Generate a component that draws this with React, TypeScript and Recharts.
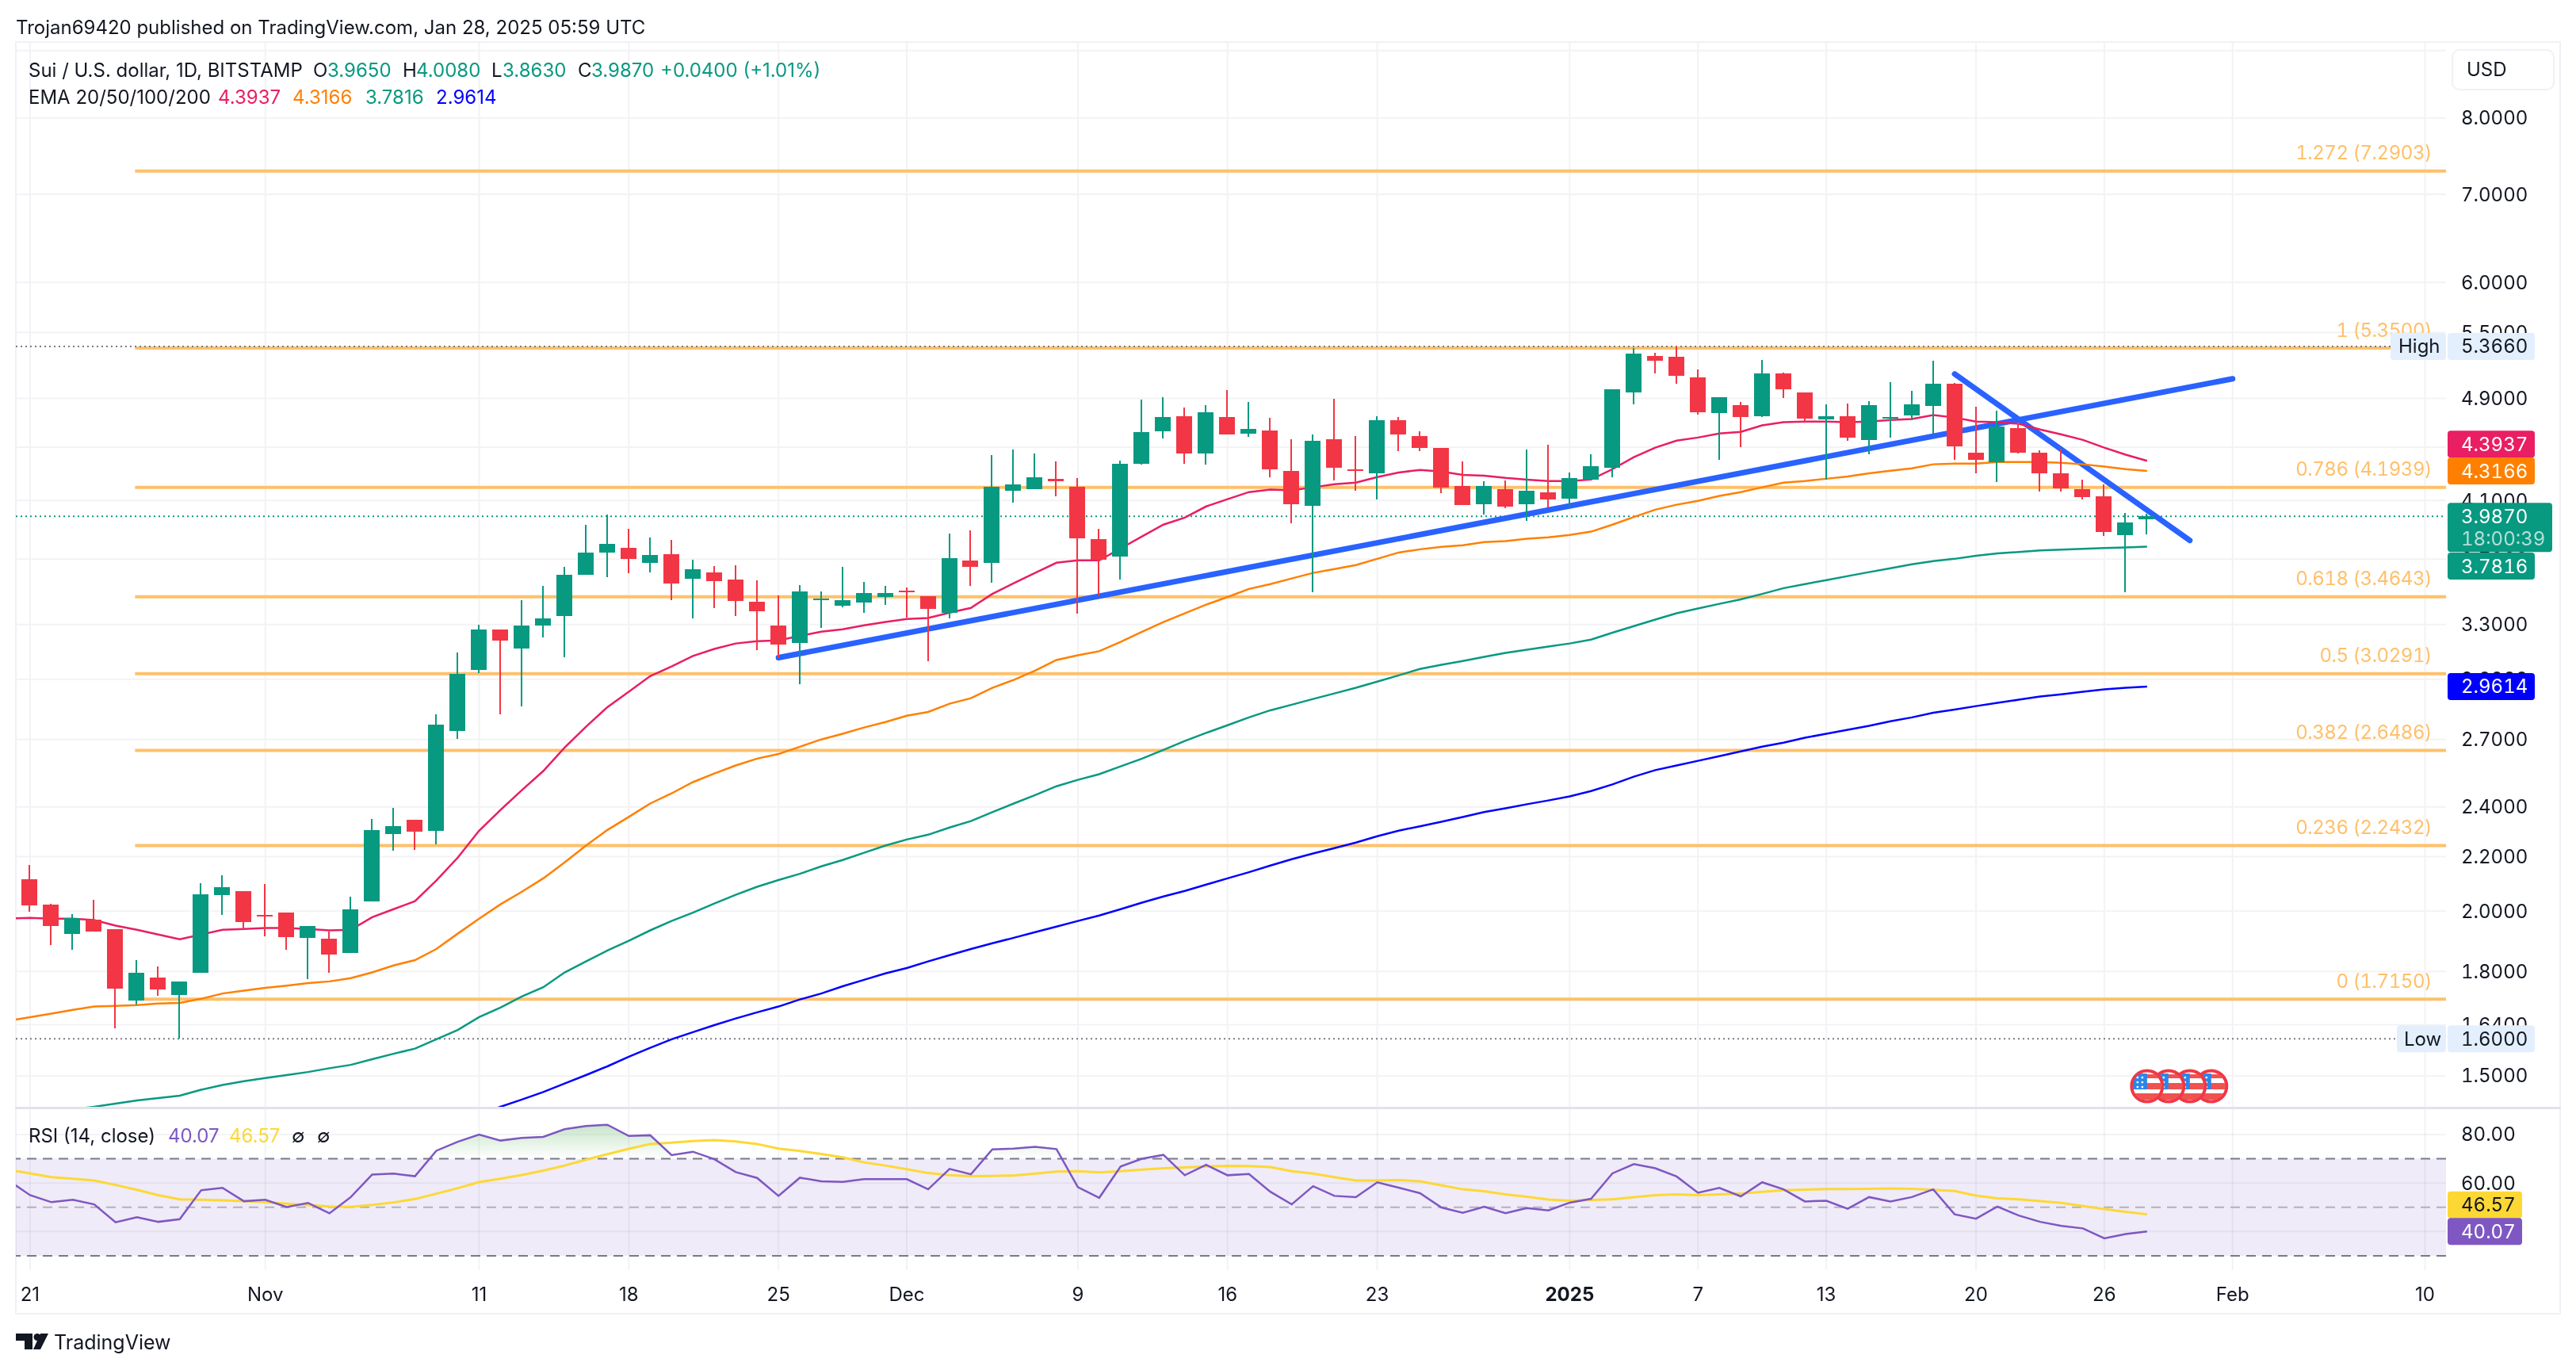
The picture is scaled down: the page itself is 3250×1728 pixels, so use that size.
import React from 'react';
import { ComposedChart, Bar, Line, Area, XAxis, YAxis, CartesianGrid, ReferenceLine, ReferenceArea, ReferenceDot } from 'recharts';

const opens = [2.115,2.024,1.923,1.971,1.939,1.711,1.782,1.727,1.797,2.058,2.072,1.987,1.995,1.909,1.907,1.859,2.035,2.289,2.348,2.302,2.741,3.050,3.273,3.163,3.296,3.352,3.602,3.743,3.775,3.677,3.732,3.577,3.617,3.572,3.435,3.296,3.197,3.445,3.412,3.431,3.463,3.502,3.468,3.370,3.692,3.677,4.172,4.183,4.258,4.201,3.834,3.717,4.373,4.628,4.752,4.453,4.746,4.608,4.634,4.318,4.063,4.563,4.330,4.299,4.719,4.588,4.496,4.206,4.074,4.183,4.074,4.160,4.115,4.252,4.342,4.952,5.277,5.270,5.086,4.779,4.845,4.752,5.122,4.952,4.726,4.752,4.557,4.733,4.759,4.838,5.030,4.459,4.385,4.654,4.459,4.299,4.183,4.132,3.860,3.965];
const highs = [2.169,2.027,1.990,2.041,1.939,1.836,1.816,1.769,2.101,2.130,2.072,2.098,1.995,1.950,1.931,2.052,2.351,2.394,2.348,2.821,3.145,3.301,3.273,3.445,3.532,3.652,3.930,3.999,3.903,3.844,3.828,3.697,3.657,3.662,3.567,3.472,3.537,3.497,3.652,3.557,3.532,3.522,3.468,3.871,3.892,4.435,4.484,4.453,4.392,4.264,3.903,4.398,4.891,4.910,4.825,4.845,4.973,4.871,4.739,4.563,4.601,4.897,4.588,4.752,4.745,4.627,4.496,4.392,4.241,4.247,4.484,4.520,4.305,4.447,4.980,5.348,5.305,5.366,5.157,4.910,4.871,5.242,5.129,4.952,4.851,4.858,4.878,5.044,4.966,5.235,5.037,4.831,4.798,4.693,4.478,4.490,4.252,4.218,4.010,4.008];
const lows = [1.998,1.885,1.869,1.931,1.630,1.700,1.725,1.600,1.797,1.987,1.939,1.915,1.869,1.776,1.797,1.859,2.035,2.224,2.227,2.249,2.704,3.032,2.821,2.862,3.228,3.115,3.602,3.587,3.612,3.617,3.445,3.338,3.398,3.352,3.154,3.115,2.975,3.282,3.403,3.370,3.417,3.342,3.097,3.338,3.532,3.552,4.086,4.183,4.132,3.366,3.472,3.572,4.367,4.570,4.373,4.367,4.601,4.582,4.270,3.941,3.492,4.247,4.172,4.109,4.471,4.471,4.155,4.069,3.999,4.046,3.957,4.052,4.052,4.252,4.270,4.851,5.122,5.030,4.765,4.404,4.502,4.745,4.904,4.706,4.252,4.551,4.447,4.576,4.719,4.608,4.404,4.299,4.235,4.453,4.166,4.166,4.109,3.855,3.492,3.863];
const closes = [2.021,1.950,1.977,1.931,1.747,1.797,1.744,1.769,2.061,2.087,1.963,1.982,1.912,1.950,1.854,2.007,2.305,2.321,2.298,2.772,3.028,3.273,3.210,3.296,3.338,3.602,3.743,3.802,3.702,3.727,3.547,3.637,3.562,3.440,3.380,3.189,3.497,3.454,3.445,3.487,3.487,3.492,3.394,3.707,3.652,4.201,4.218,4.270,4.241,3.839,3.697,4.373,4.621,4.746,4.453,4.785,4.601,4.647,4.330,4.074,4.551,4.342,4.318,4.719,4.601,4.496,4.195,4.069,4.206,4.057,4.172,4.109,4.264,4.355,4.980,5.298,5.235,5.094,4.785,4.910,4.745,5.122,4.980,4.733,4.752,4.576,4.845,4.746,4.851,5.030,4.508,4.404,4.667,4.459,4.299,4.189,4.126,3.879,3.946,3.987];

// index -1 (left of the first candle) comes first in every indicator list
const ema20 = [1.974,1.977,1.974,1.974,1.969,1.950,1.936,1.920,1.904,1.920,1.936,1.939,1.942,1.942,1.939,1.934,1.936,1.979,2.007,2.035,2.110,2.196,2.302,2.387,2.471,2.555,2.662,2.761,2.857,2.935,3.016,3.067,3.124,3.163,3.193,3.206,3.210,3.236,3.259,3.273,3.296,3.315,3.333,3.338,3.370,3.398,3.482,3.547,3.612,3.677,3.692,3.692,3.770,3.850,3.930,3.978,4.057,4.109,4.160,4.178,4.172,4.195,4.218,4.229,4.270,4.305,4.324,4.312,4.287,4.281,4.264,4.252,4.241,4.241,4.252,4.330,4.422,4.496,4.551,4.576,4.608,4.621,4.674,4.700,4.706,4.706,4.700,4.706,4.719,4.726,4.759,4.739,4.706,4.700,4.687,4.641,4.601,4.557,4.496,4.441,4.3937];
const ema50 = [1.651,1.662,1.672,1.683,1.693,1.695,1.697,1.702,1.704,1.716,1.732,1.741,1.749,1.756,1.764,1.769,1.779,1.797,1.819,1.836,1.872,1.923,1.974,2.024,2.069,2.118,2.178,2.243,2.305,2.358,2.414,2.457,2.506,2.544,2.580,2.611,2.632,2.666,2.700,2.727,2.757,2.783,2.814,2.833,2.874,2.902,2.955,2.996,3.045,3.102,3.128,3.150,3.202,3.259,3.315,3.366,3.417,3.463,3.512,3.542,3.577,3.612,3.637,3.662,3.702,3.743,3.764,3.780,3.791,3.812,3.818,3.834,3.844,3.860,3.882,3.930,3.983,4.034,4.069,4.097,4.132,4.160,4.195,4.229,4.241,4.258,4.275,4.299,4.318,4.336,4.367,4.373,4.373,4.385,4.385,4.385,4.379,4.367,4.349,4.330,4.3166];
const ema100 = [1.392,1.399,1.407,1.415,1.421,1.429,1.437,1.443,1.449,1.464,1.476,1.486,1.494,1.502,1.510,1.520,1.529,1.544,1.559,1.573,1.599,1.625,1.662,1.690,1.723,1.751,1.797,1.832,1.867,1.899,1.934,1.966,1.995,2.027,2.058,2.087,2.112,2.135,2.163,2.187,2.215,2.243,2.267,2.286,2.315,2.341,2.378,2.414,2.450,2.488,2.516,2.541,2.576,2.611,2.651,2.693,2.731,2.768,2.806,2.841,2.869,2.898,2.926,2.955,2.987,3.020,3.054,3.076,3.097,3.119,3.141,3.158,3.176,3.193,3.215,3.254,3.291,3.329,3.366,3.394,3.422,3.449,3.482,3.517,3.542,3.567,3.592,3.617,3.642,3.667,3.687,3.702,3.722,3.737,3.747,3.757,3.762,3.767,3.772,3.777,3.7816];
const ema200 = [null,null,null,null,null,null,null,null,null,null,null,null,null,null,null,null,null,null,null,null,null,null,1.403,1.421,1.439,1.458,1.480,1.502,1.525,1.551,1.575,1.599,1.619,1.639,1.658,1.676,1.693,1.714,1.732,1.754,1.774,1.794,1.811,1.832,1.852,1.872,1.891,1.909,1.928,1.947,1.966,1.985,2.007,2.030,2.052,2.072,2.095,2.118,2.141,2.166,2.190,2.212,2.233,2.255,2.280,2.302,2.320,2.338,2.358,2.378,2.394,2.411,2.427,2.444,2.467,2.496,2.530,2.559,2.580,2.601,2.622,2.644,2.666,2.685,2.708,2.727,2.746,2.765,2.787,2.806,2.829,2.845,2.862,2.878,2.894,2.910,2.922,2.935,2.947,2.955,2.9614];
const rsi = [61.0,55.0,52.1,53.1,51.2,43.8,45.9,44.0,45.1,57.0,58.0,52.5,53.1,50.1,51.8,47.5,54.2,63.5,63.9,62.8,73.3,77.0,80.0,77.5,78.6,79.0,82.2,83.5,84.0,79.4,79.7,71.5,72.9,69.8,64.5,62.1,54.7,62.2,60.7,60.5,61.6,61.6,61.6,57.4,65.8,63.6,73.9,74.2,74.9,74.0,58.3,53.9,66.8,70.0,71.6,63.2,67.5,63.2,63.7,56.4,51.2,58.7,54.7,54.2,60.3,58.1,55.8,49.9,47.7,50.2,47.6,49.7,48.7,51.9,53.5,64.0,67.8,66.1,62.7,56.0,58.0,54.5,60.3,57.4,52.4,52.7,49.4,54.2,52.4,54.2,57.4,47.1,45.3,50.3,46.6,44.0,42.3,41.3,37.2,39.0,40.07];
const rsiMa = [65.4,64.0,62.4,61.8,61.0,59.2,57.2,55.0,53.3,53.1,52.9,52.5,52.1,51.5,50.9,50.3,50.2,51.0,52.0,53.4,55.6,57.9,60.4,61.8,63.3,65.1,67.2,69.6,71.9,74.1,76.1,76.6,77.3,77.7,77.1,76.1,74.2,73.2,72.0,70.6,68.5,67.2,65.7,64.1,63.2,62.8,62.9,63.1,63.9,64.7,64.9,64.4,64.9,65.5,66.1,66.4,66.8,67.1,67.0,66.6,64.9,63.9,62.4,61.0,61.0,61.2,60.7,59.1,57.4,56.6,55.3,54.3,53.2,52.7,53.0,53.3,54.2,55.0,55.3,55.0,55.3,55.6,56.4,57.0,57.3,57.5,57.5,57.6,57.8,57.6,57.2,56.7,54.8,53.7,53.3,52.5,51.8,50.5,49.3,48.1,47.1,46.57];

const priceTicks = [8,7,6,5.5,4.9,4.5,4.1,3.7,3.3,3,2.7,2.4,2.2,2,1.8,1.64,1.5];
const priceGrid = [9, ...priceTicks];
const rsiTicks = [80,60,40];
const timeTicks = [0,11,21,28,35,41,49,56,63,72,78,84,91,97,103,112];
const timeLabels = ['21','Nov','11','18','25','Dec','9','16','23','2025','7','13','20','26','Feb','10'];
const fibLevels = [7.2903,5.35,4.1939,3.4643,3.0291,2.6486,2.2432,1.715];
const fibNames = ['1.272 (7.2903)','1 (5.3500)','0.786 (4.1939)','0.618 (3.4643)','0.5 (3.0291)','0.382 (2.6486)','0.236 (2.2432)','0 (1.7150)'];
const trendUp = [{ x: 35, y: 3.115 }, { x: 103, y: 5.071 }];
const trendDown = [{ x: 90, y: 5.114 }, { x: 101, y: 3.823 }];
const eventDays = [102,101,100,99];

const rows = [-1, ...opens.map((_, i) => i)].map((i) => {
  const k = i + 1;
  const r = rsi[k];
  return {
    i,
    open: i >= 0 ? opens[i] : undefined,
    high: i >= 0 ? highs[i] : undefined,
    low: i >= 0 ? lows[i] : undefined,
    close: i >= 0 ? closes[i] : undefined,
    range: i >= 0 ? [lows[i], highs[i]] : undefined,
    ema20: ema20[k], ema50: ema50[k], ema100: ema100[k], ema200: ema200[k],
    rsi: r, rsiMa: rsiMa[k], rsiFill: [70, Math.max(70, r)],
  };
});

const W = 3250, H = 1728;
const LEFT = 20, AXIS_W = 164;
const MAIN_TOP = 53, MAIN_BOTTOM = 1397, RSI_BOTTOM = 1602;
const X_DOMAIN: [number, number] = [-0.6635, 112.98];
const PRICE_DOMAIN: [number, number] = [1.419, 9.134];
const RSI_DOMAIN: [number, number] = [24.1, 91.1];
const FONT = 'Inter, "Liberation Sans", sans-serif';
const INK = '#131722', UP = '#089981', DOWN = '#f23645', FIB = '#ffc06a', GRID = '#f3f3f5';
const BADGE_X = 3088, BADGE_W = 110;
const TAB: React.CSSProperties = { fontVariantNumeric: 'tabular-nums', fontFeatureSettings: '"tnum"' };

function Candle(p: any) {
  const d = p.payload;
  if (!d || d.high == null) return null;
  const top = Math.min(p.y, p.y + p.height);
  const h = Math.abs(p.height);
  const at = (v: number) => top + h * (Math.log(d.high) - Math.log(v)) / (Math.log(d.high) - Math.log(d.low));
  const cx = p.x + p.width / 2;
  const color = d.close >= d.open ? UP : DOWN;
  const y1 = at(Math.max(d.open, d.close)), y2 = at(Math.min(d.open, d.close));
  return (
    <g shapeRendering="crispEdges">
      <rect x={cx - 1} y={top} width={2} height={h} fill={color} />
      <rect x={cx - 10} y={y1} width={20} height={Math.max(2, y2 - y1)} fill={color} />
    </g>
  );
}

function FibLabel(p: any) {
  return <text x={3068} y={p.viewBox.y - 23} textAnchor="end" dominantBaseline="central" fontFamily={FONT} fontSize={24} letterSpacing={-0.45} style={TAB} fill={FIB}>{p.text}</text>;
}

function Badge(p: any) {
  const cy = p.viewBox.y + (p.shift || 0);
  const x = p.bx ?? BADGE_X, w = p.bw ?? BADGE_W, h = p.bh ?? 34;
  const y0 = cy - 17;
  const tx = p.tx ?? x + 17;
  return (
    <g>
      <rect x={x} y={y0} width={w} height={h} rx={4} fill={p.bg} />
      <text x={tx} y={cy} dominantBaseline="central" fontFamily={FONT} fontSize={24} style={TAB} fill={p.fg}>{p.text}</text>
      {p.sub ? <text x={tx} y={cy + 28} dominantBaseline="central" fontFamily={FONT} fontSize={24} style={TAB} fill="#b7dfd6">{p.sub}</text> : null}
    </g>
  );
}

function Flag(p: any) {
  const id = 'flag' + p.day;
  const cx = p.cx, cy = p.cy;
  return (
    <g transform={`translate(${cx},${cy})`}>
      <clipPath id={id}><circle r={18} /></clipPath>
      <circle r={19.5} fill="#fff" stroke="#f23645" strokeWidth={4} />
      <g clipPath={`url(#${id})`}>
        <rect x={-19} y={-15} width={38} height={5} fill="#f0524f" />
        <rect x={-19} y={-4} width={38} height={8} fill="#f0524f" />
        <rect x={-19} y={9} width={38} height={8} fill="#f0524f" />
        <rect x={-19} y={-16} width={19} height={20} fill="#2a87e8" />
        {[-12, -6].map((a) => [-11, -5, 1].map((b) => <circle key={a + '_' + b} cx={a} cy={b} r={1.4} fill="#fff" />))}
      </g>
    </g>
  );
}

function TimeTick(p: any) {
  const idx = timeTicks.indexOf(p.payload.value);
  const label = timeLabels[idx];
  return <text x={p.x} y={1632} textAnchor="middle" dominantBaseline="central" fontFamily={FONT} fontSize={24} fontWeight={label === '2025' ? 700 : 400} fill={INK}>{label}</text>;
}

const layer: React.CSSProperties = { position: 'absolute', left: 0, top: 0 };

function T(p: { x: number; y: number; c?: string; s?: number; w?: number; children: React.ReactNode }) {
  return <div style={{ position: 'absolute', left: p.x, top: p.y - 18, height: 36, lineHeight: '36px', fontFamily: FONT, fontSize: p.s ?? 24, fontWeight: p.w ?? 400, color: p.c ?? INK, whiteSpace: 'nowrap' }}>{p.children}</div>;
}

const mainMargin = { top: MAIN_TOP, left: LEFT, right: AXIS_W, bottom: H - MAIN_BOTTOM };
const rsiMargin = { top: MAIN_BOTTOM, left: LEFT, right: AXIS_W, bottom: H - RSI_BOTTOM };

const hiddenX = <XAxis type="number" dataKey="i" domain={X_DOMAIN} allowDataOverflow hide ticks={timeTicks} interval={0} />;
const hiddenPriceY = <YAxis type="number" scale="log" domain={PRICE_DOMAIN} allowDataOverflow hide ticks={priceGrid} interval={0} />;
const hiddenRsiY = <YAxis type="number" domain={RSI_DOMAIN} allowDataOverflow hide ticks={rsiTicks} interval={0} />;

export default function App() {
  return (
    <div style={{ position: 'absolute', left: 0, top: 0, width: W, height: H, background: '#fff', overflow: 'hidden' }}>
      <div style={{ position: 'absolute', left: LEFT - 1, top: MAIN_TOP - 1, width: 3212, height: 1606, border: '2px solid #f0f0f6', boxSizing: 'border-box' }} />

      {/* price pane: grid, drawings, moving averages */}
      <div style={layer}>
        <ComposedChart width={W} height={H} data={rows} margin={mainMargin}>
          <CartesianGrid stroke={GRID} strokeWidth={2} horizontalValues={priceGrid} verticalValues={timeTicks} />
          {hiddenX}
          {hiddenPriceY}
          {fibLevels.map((v, k) => (
            <ReferenceLine key={v} ifOverflow="visible" segment={[{ x: 4.91, y: v }, { x: X_DOMAIN[1], y: v }]} stroke={FIB} strokeWidth={4} label={<FibLabel text={fibNames[k]} />} />
          ))}
          <ReferenceLine ifOverflow="visible" y={5.366} stroke="#787b86" strokeWidth={2} strokeDasharray="2 4" />
          <ReferenceLine ifOverflow="visible" y={1.6} stroke="#787b86" strokeWidth={2} strokeDasharray="2 4" />
          <ReferenceLine ifOverflow="visible" y={3.987} stroke={UP} strokeWidth={2} strokeDasharray="2 4" />
          <ReferenceLine ifOverflow="visible" segment={trendUp} stroke="#2962ff" strokeWidth={7} strokeLinecap="round" />
          <ReferenceLine ifOverflow="visible" segment={trendDown} stroke="#2962ff" strokeWidth={7} strokeLinecap="round" />
          <Line dataKey="ema20" stroke="#e91e63" strokeWidth={2.5} dot={false} activeDot={false} isAnimationActive={false} />
          <Line dataKey="ema50" stroke="#ff8000" strokeWidth={2.5} dot={false} activeDot={false} isAnimationActive={false} />
          <Line dataKey="ema100" stroke={UP} strokeWidth={2.5} dot={false} activeDot={false} isAnimationActive={false} />
          <Line dataKey="ema200" stroke="#0000ff" strokeWidth={2.5} dot={false} activeDot={false} isAnimationActive={false} />
        </ComposedChart>
      </div>

      {/* candles */}
      <div style={layer}>
        <ComposedChart width={W} height={H} data={rows} margin={mainMargin}>
          {hiddenX}
          {hiddenPriceY}
          <Bar dataKey="range" barSize={20} shape={<Candle />} isAnimationActive={false} />
        </ComposedChart>
      </div>

      {/* price scale labels */}
      <div style={layer}>
        <ComposedChart width={W} height={H} data={rows} margin={{ ...mainMargin, right: 0 }}>
          {hiddenX}
          <YAxis orientation="right" width={AXIS_W} type="number" scale="log" domain={PRICE_DOMAIN} allowDataOverflow ticks={priceTicks} interval={0} axisLine={false} tickLine={false} tickMargin={13} tickFormatter={(v: number) => v.toFixed(4)} tick={{ fontFamily: FONT, fontSize: 24, fill: INK, style: TAB }} />
        </ComposedChart>
      </div>

      {/* RSI pane */}
      <div style={layer}>
        <ComposedChart width={W} height={H} data={rows} margin={{ top: MAIN_BOTTOM, left: LEFT, right: 0, bottom: H - RSI_BOTTOM - 30 }}>
          <defs>
            <linearGradient id="rsiGlow" x1="0" y1="0" x2="0" y2="1">
              <stop offset="0%" stopColor="#8cc98f" stopOpacity={0.8} />
              <stop offset="100%" stopColor="#8cc98f" stopOpacity={0} />
            </linearGradient>
          </defs>
          <ReferenceArea ifOverflow="visible" x1={X_DOMAIN[0]} x2={X_DOMAIN[1]} y1={30} y2={70} fill="#7e57c2" fillOpacity={0.12} stroke="none" />
          <CartesianGrid stroke={GRID} strokeWidth={2} horizontalValues={rsiTicks} verticalValues={timeTicks} style={{ mixBlendMode: 'multiply' }} />
          <XAxis type="number" dataKey="i" domain={X_DOMAIN} allowDataOverflow ticks={timeTicks} interval={0} axisLine={false} tickLine={false} tick={<TimeTick />} height={30} />
          <YAxis orientation="right" width={AXIS_W} type="number" domain={RSI_DOMAIN} allowDataOverflow ticks={rsiTicks} interval={0} axisLine={false} tickLine={false} tickMargin={13} tickFormatter={(v: number) => v.toFixed(2)} tick={{ fontFamily: FONT, fontSize: 24, fill: INK, style: TAB }} />
          <ReferenceLine ifOverflow="visible" y={70} stroke="#787b86" strokeWidth={2} strokeDasharray="12 8" />
          <ReferenceLine ifOverflow="visible" y={50} stroke="#b2b1ba" strokeWidth={2} strokeDasharray="12 8" />
          <ReferenceLine ifOverflow="visible" y={30} stroke="#787b86" strokeWidth={2} strokeDasharray="12 8" />
          <Area dataKey="rsiFill" stroke="none" fill="url(#rsiGlow)" dot={false} activeDot={false} isAnimationActive={false} />
          <Line dataKey="rsiMa" stroke="#fdd835" strokeWidth={3} dot={false} activeDot={false} isAnimationActive={false} />
          <Line dataKey="rsi" stroke="#7e57c2" strokeWidth={2.5} dot={false} activeDot={false} isAnimationActive={false} />
        </ComposedChart>
      </div>

      {/* last-value badges over the price scale */}
      <div style={layer}>
        <ComposedChart width={W} height={H} data={rows} margin={mainMargin}>
          {hiddenX}
          {hiddenPriceY}
          {eventDays.map((d) => <ReferenceDot key={d} x={d} y={1.473} ifOverflow="visible" shape={<Flag day={d} />} />)}
          <ReferenceLine ifOverflow="visible" y={5.366} stroke="none" label={<Badge bx={3016} bw={70} bg="#e3effd" fg={INK} tx={3026} text="High" />} />
          <ReferenceLine ifOverflow="visible" y={5.366} stroke="none" label={<Badge bg="#e3effd" fg={INK} text="5.3660" />} />
          <ReferenceLine ifOverflow="visible" y={1.6} stroke="none" label={<Badge bx={3024} bw={62} bg="#e3effd" fg={INK} tx={3033} text="Low" />} />
          <ReferenceLine ifOverflow="visible" y={1.6} stroke="none" label={<Badge bg="#e3effd" fg={INK} text="1.6000" />} />
          <ReferenceLine ifOverflow="visible" y={4.3937} stroke="none" label={<Badge shift={-21} bg="#e91e63" fg="#fff" text="4.3937" />} />
          <ReferenceLine ifOverflow="visible" y={4.3166} stroke="none" label={<Badge bg="#ff8000" fg="#fff" text="4.3166" />} />
          <ReferenceLine ifOverflow="visible" y={3.987} stroke="none" label={<Badge bw={132} bh={62} bg={UP} fg="#fff" text="3.9870" sub="18:00:39" />} />
          <ReferenceLine ifOverflow="visible" y={3.7816} stroke="none" label={<Badge shift={24.5} bg={UP} fg="#fff" text="3.7816" />} />
          <ReferenceLine ifOverflow="visible" y={2.9614} stroke="none" label={<Badge bg="#0000ff" fg="#fff" text="2.9614" />} />
        </ComposedChart>
      </div>
      <div style={layer}>
        <ComposedChart width={W} height={H} data={rows} margin={rsiMargin}>
          {hiddenX}
          {hiddenRsiY}
          <ReferenceLine ifOverflow="visible" y={46.57} stroke="none" label={<Badge bw={94} shift={-13.5} bg="#fdd835" fg={INK} text="46.57" />} />
          <ReferenceLine ifOverflow="visible" y={40.07} stroke="none" label={<Badge bw={94} bg="#7e57c2" fg="#fff" text="40.07" />} />
        </ComposedChart>
      </div>

      <div style={{ position: 'absolute', left: 3093, top: 62, width: 130, height: 52, border: '2px solid #f0f0f6', borderRadius: 10, boxSizing: 'border-box', background: '#fff' }} />
      <T x={3112} y={88}>USD</T>

      <T x={20} y={35}>Trojan69420 published on TradingView.com, Jan 28, 2025 05:59 UTC</T>
      <T x={36} y={89}>Sui / U.S. dollar, 1D, BITSTAMP</T>
      <T x={395} y={89}>O</T><T x={413} y={89} c={UP}>3.9650</T>
      <T x={508} y={89}>H</T><T x={525} y={89} c={UP}>4.0080</T>
      <T x={620} y={89}>L</T><T x={634} y={89} c={UP}>3.8630</T>
      <T x={729} y={89}>C</T><T x={746} y={89} c={UP}>3.9870</T>
      <T x={833} y={89} c={UP}>+0.0400 (+1.01%)</T>
      <T x={36} y={123}>EMA 20/50/100/200</T>
      <T x={275} y={123} c="#e91e63">4.3937</T>
      <T x={369} y={123} c="#ff8000">4.3166</T>
      <T x={461} y={123} c={UP}>3.7816</T>
      <T x={550} y={123} c="#0000ff">2.9614</T>
      <T x={36} y={1433}>RSI (14, close)</T>
      <T x={212} y={1433} c="#7e57c2">40.07</T>
      <T x={289} y={1433} c="#fdd835">46.57</T>
      <T x={368} y={1433}>∅</T>
      <T x={400} y={1433}>∅</T>

      <div style={{ position: 'absolute', left: LEFT - 1, top: MAIN_BOTTOM - 1, width: 3212, height: 3, background: '#e0e3eb' }} />

      <svg style={{ position: 'absolute', left: 20, top: 1682 }} width={42} height={22}>
        <path d="M0 0H21V20H11V9H0Z" fill={INK} />
        <circle cx={27} cy={4.5} r={4.5} fill={INK} />
        <path d="M31 0H41L31 20H22Z" fill={INK} />
      </svg>
      <T x={68} y={1693} s={25} w={400}>TradingView</T>
    </div>
  );
}
